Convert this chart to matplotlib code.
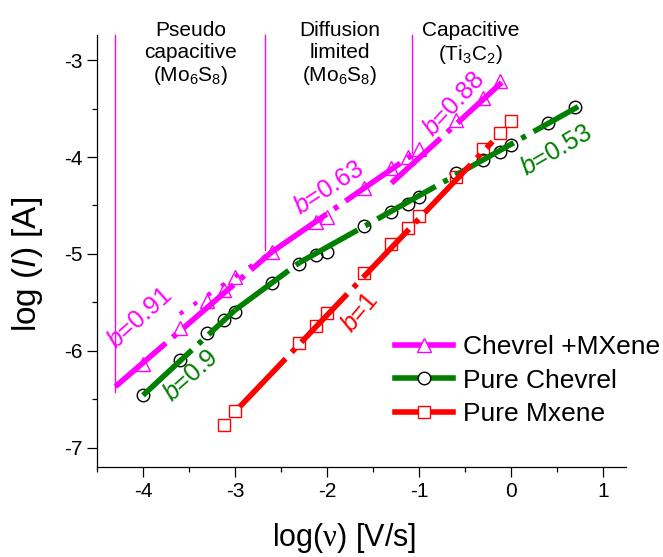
import matplotlib
matplotlib.use("Agg")
import matplotlib.pyplot as plt
from matplotlib.lines import Line2D

plt.rcParams['font.family'] = ['Liberation Sans', 'DejaVu Sans']
plt.rcParams['mathtext.fontset'] = 'custom'
plt.rcParams['mathtext.rm'] = 'Liberation Sans'
plt.rcParams['mathtext.it'] = 'Liberation Sans:italic'
plt.rcParams['mathtext.sf'] = 'Liberation Serif'

# ---- data (log scan rate, log current) ----
mx_x = [-4.0, -3.6, -3.3, -3.12, -3.0, -2.6, -2.12, -2.0, -1.6, -1.3, -1.12, -1.0, -0.6, -0.3, -0.12]
mx_y = [-6.14, -5.76, -5.49, -5.37, -5.24, -4.98, -4.67, -4.62, -4.32, -4.11, -4.0, -3.92, -3.62, -3.39, -3.21]

ch_x = [-4.0, -3.6, -3.3, -3.12, -3.0, -2.6, -2.3, -2.12, -2.0, -1.6, -1.3, -1.12, -1.0, -0.6, -0.3, -0.12, 0.0, 0.4, 0.7]
ch_y = [-6.46, -6.10, -5.82, -5.68, -5.60, -5.30, -5.10, -5.01, -4.98, -4.71, -4.57, -4.48, -4.41, -4.16, -4.03, -3.95, -3.88, -3.65, -3.48]

mxene_x = [-3.12, -3.0, -2.3, -2.12, -2.0, -1.6, -1.3, -1.12, -1.0, -0.6, -0.3, -0.12, 0.0]
mxene_y = [-6.77, -6.62, -5.92, -5.74, -5.61, -5.20, -4.90, -4.73, -4.61, -4.21, -3.92, -3.75, -3.63]

# fitted segments: (x0, x1, y0, y1)
mx_fits = [(-4.3, -2.6, -6.37, -4.98), (-2.6, -1.0, -4.98, -3.93), (-1.3, -0.1, -4.27, -3.23)]
mx_fit_ext = [(-3.6, -2.6, -5.62, -4.98)]
ch_fits = [(-4.0, -3.0, -6.46, -5.58), (-3.0, -2.3, -5.58, -5.09), (-2.3, 0.73, -5.09, -3.48)]
mxene_fits = [(-2.95, -0.2, -6.58, -3.84)]

# b-value labels: (text, x, y, angle)
mx_labels = [('0.91', -4.03, -5.66, 42), ('0.63', -1.98, -4.32, 33), ('0.88', -0.62, -3.46, 47)]
ch_labels = [('0.9', -3.48, -6.26, 42), ('0.53', 0.49, -3.93, 30)]
mxene_labels = [('1', -1.64, -5.61, 50)]

# region dividers and region titles
divider_x = [-4.30, -2.67, -1.08]
divider_bottom = [-6.43, -4.96, -3.96]
region_x = [-3.48, -1.86, -0.44]
region_txt = ['Pseudo\ncapacitive\n(Mo$_\\mathregular{6}$S$_\\mathregular{8}$)',
              'Diffusion\nlimited\n(Mo$_\\mathregular{6}$S$_\\mathregular{8}$)',
              'Capacitive\n(Ti$_\\mathregular{3}$C$_\\mathregular{2}$)']

MAG = '#ff00ff'
GRN = '#007f00'
RED = '#ff0000'
dashdot = (0, (12, 1.6, 0.9, 1.6))

fig = plt.figure(figsize=(6.63, 5.57), dpi=100)
ax = fig.add_axes([0.1463, 0.1616, 0.7979, 0.7756])

for xv, yb in zip(divider_x, divider_bottom):
    ax.plot([xv, xv], [-2.74, yb], color=MAG, lw=1.0, zorder=1, clip_on=False)

ax.plot(mx_x, mx_y, ls='none', marker='^', ms=10, mfc='none', mec=MAG, mew=1.0, zorder=2)
ax.plot(ch_x, ch_y, ls='none', marker='o', ms=9, mfc='none', mec='black', mew=1.0, zorder=2)
ax.plot(mxene_x, mxene_y, ls='none', marker='s', ms=8, mfc='none', mec=RED, mew=1.0, zorder=2)

for fits, col in [(mx_fits, MAG), (ch_fits, GRN), (mxene_fits, RED)]:
    for x0, x1, y0, y1 in fits:
        ax.plot([x0, x1], [y0, y1], color=col, lw=4, ls=dashdot,
                dash_capstyle='butt', zorder=3)
for x0, x1, y0, y1 in mx_fit_ext:
    ax.plot([x0, x1], [y0, y1], color=MAG, lw=3, ls=(0, (1, 3)),
            dash_capstyle='butt', zorder=3)

for labels, col in [(mx_labels, MAG), (ch_labels, GRN), (mxene_labels, RED)]:
    for t, lx, ly, ang in labels:
        ax.text(lx, ly, '$b$=' + t, color=col, fontsize=18, rotation=ang,
                rotation_mode='anchor', ha='center', va='center', zorder=4)

for rx, t in zip(region_x, region_txt):
    ax.text(rx, -2.6, t, ha='center', va='top', fontsize=15,
            linespacing=1.15, clip_on=False)

ax.set_xlim(-4.5, 1.25)
ax.set_ylim(-7.2, -2.74)
ax.set_xticks([-4, -3, -2, -1, 0, 1])
ax.set_xticks([-4.5, -3.5, -2.5, -1.5, -0.5, 0.5], minor=True)
ax.set_yticks([-7, -6, -5, -4, -3])
ax.set_yticks([-6.5, -5.5, -4.5, -3.5], minor=True)
ax.set_xticklabels(['-4', '-3', '-2', '-1', '0', '1'])
ax.set_yticklabels(['-7', '-6', '-5', '-4', '-3'])
ax.tick_params(which='major', direction='out', length=7, width=0.9, labelsize=15)
ax.tick_params(which='minor', direction='out', length=3.5, width=0.9)
ax.spines['top'].set_visible(False)
ax.spines['right'].set_visible(False)
ax.spines['left'].set_linewidth(0.9)
ax.spines['bottom'].set_linewidth(0.9)

ax.set_xlabel('log($\\mathsf{\\nu}$) [V/s]', fontsize=22)
ax.xaxis.set_label_coords(0.467, -0.125)
ax.set_ylabel('log ($I$) [A]', fontsize=24)
ax.yaxis.set_label_coords(-0.098, 0.47)

handles = [
    Line2D([], [], color=MAG, lw=4, marker='^', ms=10, mfc='white', mec=MAG, mew=1.0),
    Line2D([], [], color=GRN, lw=4, marker='o', ms=9, mfc='white', mec='black', mew=1.0),
    Line2D([], [], color=RED, lw=4, marker='s', ms=8, mfc='white', mec=RED, mew=1.0),
]
ax.legend(handles, ['Chevrel +MXene', 'Pure Chevrel', 'Pure Mxene'],
          loc='center left', bbox_to_anchor=(0.563, 0.2), frameon=False,
          fontsize=19, handlelength=2.2, handletextpad=0.4,
          labelspacing=0.35, borderpad=0, borderaxespad=0, numpoints=1)

fig.savefig('out.png', dpi=100)
